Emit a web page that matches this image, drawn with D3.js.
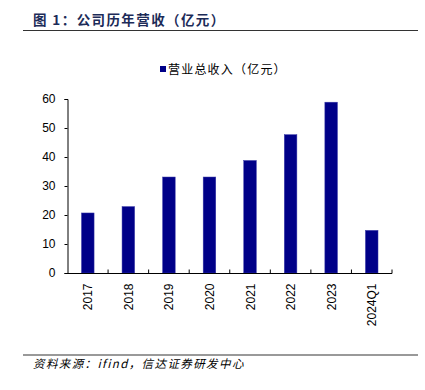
<!DOCTYPE html>
<html><head><meta charset="utf-8">
<script src="https://cdn.jsdelivr.net/npm/d3@7"></script>
<style>body{margin:0;background:#fff}svg{display:block}</style>
</head><body>
<script>
const categories = ["2017","2018","2019","2020","2021","2022","2023","2024Q1"];
const revenue = [20.7, 22.9, 33.1, 33.1, 38.8, 47.7, 58.9, 14.7];
const yTicks = [0,10,20,30,40,50,60];
const seriesName = "营业总收入（亿元）";
const title = "图 1：公司历年营收（亿元）";
const source = "资料来源：ifind，信达证券研发中心";

const W=425,H=390;
const svg=d3.select("body").append("svg").attr("width",W).attr("height",H);
const cjk='"Noto Sans CJK SC","Noto Sans",sans-serif';
const latin='"Liberation Sans",Arial,sans-serif';

svg.append("text").attr("x",33).attr("y",25).attr("font-family",cjk).attr("font-weight","bold")
  .attr("font-size",13.5).attr("letter-spacing",1.4).attr("fill","#1c2b58").text(title);
svg.append("line").attr("x1",23).attr("x2",418).attr("y1",30.5).attr("y2",30.5).attr("stroke","#333").attr("stroke-width",1.2);

const x=d3.scaleBand().domain(categories).range([67.5,392]).paddingInner(0.69).paddingOuter(0.345);
const y=d3.scaleLinear().domain([0,60]).range([273,99]);

svg.append("g").selectAll("rect").data(revenue).join("rect")
  .attr("x",(d,i)=>x(categories[i])).attr("width",x.bandwidth())
  .attr("y",d=>y(d)).attr("height",d=>y(0)-y(d))
  .attr("fill","#000088").attr("stroke","#3a3aa8").attr("stroke-width",0.5);

// y axis
const ya=svg.append("g").attr("transform","translate(67.5,0)")
  .call(d3.axisLeft(y).tickValues(yTicks).tickSize(3).tickPadding(9).tickFormat(d3.format("d")));
ya.select(".domain").attr("stroke","#000");
ya.selectAll("text").attr("font-family",latin).attr("font-size",12).attr("fill","#000");

// x axis
const xa=svg.append("g").attr("transform","translate(0,273.5)");
xa.append("line").attr("x1",67.5).attr("x2",392).attr("stroke","#000");
const step=x.step();
const bounds=categories.map((c,i)=>x(c)-x.paddingInner()*step/2+step);
xa.selectAll("line.t").data(bounds).join("line").attr("class","t")
  .attr("x1",d=>d).attr("x2",d=>d).attr("y1",0).attr("y2",-4).attr("stroke","#000");
xa.selectAll("text").data(categories).join("text")
  .attr("transform",d=>`translate(${x(d)+x.bandwidth()/2+4.5},10) rotate(-90)`)
  .attr("text-anchor","end").attr("font-family",latin).attr("font-size",12).text(d=>d);

// legend
svg.append("rect").attr("x",160).attr("y",66).attr("width",6).attr("height",6).attr("fill","#000088");
svg.append("text").attr("x",168).attr("y",74).attr("font-family",cjk).attr("font-size",12)
  .attr("letter-spacing",1.2).attr("fill","#000").text(seriesName);

// footer
svg.append("line").attr("x1",23).attr("x2",418).attr("y1",355).attr("y2",355).attr("stroke","#999").attr("stroke-width",2);
svg.append("text").attr("x",33).attr("y",368).attr("font-family",cjk).attr("font-style","italic")
  .attr("font-size",11.5).attr("letter-spacing",1.4).attr("fill","#000").text(source);
</script>
</body></html>
